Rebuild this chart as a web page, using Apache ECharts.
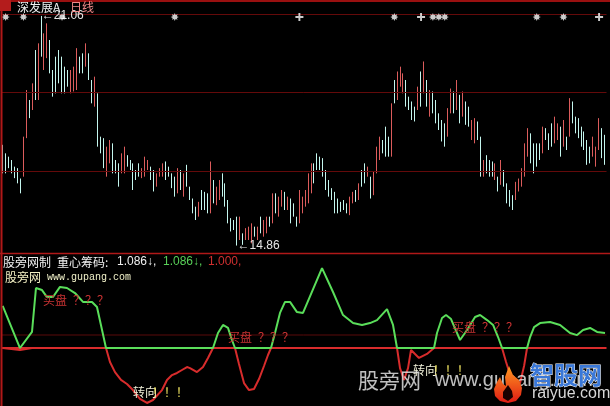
<!DOCTYPE html>
<html><head><meta charset="utf-8">
<script src="https://cdn.jsdelivr.net/npm/echarts@6/dist/echarts.min.js"></script>
<style>html,body{margin:0;padding:0;background:#000;}#c{width:610px;height:406px;}</style>
</head><body><div id="c"></div>
<script>
// [open, close, low, high]
const ohlc = [
[17.45,16.95,16.81,17.58],[17.25,16.95,16.81,17.35],[17.2,17.0,16.95,17.26],[17.1,16.9,16.81,17.17],[16.95,16.75,16.68,16.99],
[16.9,16.6,16.54,16.95],[16.6,16.35,16.27,16.67],[16.8,17.7,16.72,17.8],[17.9,18.95,17.76,19.06],[18.7,18.4,18.3,18.79],
[18.6,19.1,18.52,19.24],[20.0,18.9,18.79,20.14],[18.9,20.2,18.79,20.32],[20.9,20.1,19.96,21.06],[19.7,20.5,19.6,20.59],
[20.0,20.75,19.92,20.86],[20.3,19.6,19.51,20.41],[19.5,19.0,18.88,19.6],[19.9,19.05,18.97,19.96],[20.05,19.3,19.24,20.14],
[19.9,19.05,18.97,19.96],[19.6,19.05,18.97,19.69],[19.55,19.2,19.15,19.6],[19.05,19.5,18.97,19.6],[19.1,19.6,19.02,19.69],
[19.15,20.1,19.06,20.19],[19.9,19.55,19.51,19.96],[20.0,19.55,19.51,20.05],[19.75,20.25,19.69,20.32],[20.0,19.4,19.33,20.05],
[19.25,18.75,18.7,19.33],[18.7,19.35,18.61,19.42],[18.9,17.6,17.53,18.97],[17.75,17.4,17.35,17.8],[17.7,17.0,16.95,17.76],
[16.8,17.45,16.72,17.53],[17.15,17.65,17.08,17.71],[17.55,16.9,16.81,17.62],[17.1,16.85,16.81,17.17],[17.0,16.5,16.45,17.08],
[16.85,17.3,16.81,17.35],[16.9,17.45,16.81,17.53],[17.25,17.05,16.99,17.3],[17.1,16.95,16.9,17.17],[17.0,16.45,16.36,17.08],
[16.85,16.7,16.63,16.9],[17.0,16.75,16.72,17.08],[16.72,16.9,16.68,16.95],[16.8,17.2,16.72,17.26],[16.95,17.1,16.9,17.17],
[16.95,16.7,16.63,16.99],[16.85,16.4,16.32,16.9],[16.5,16.75,16.45,16.81],[16.75,16.9,16.72,16.95],[16.78,17.0,16.72,17.08],
[17.05,16.7,16.63,17.13],[16.95,16.75,16.72,16.99],[16.75,16.45,16.41,16.81],[16.65,16.25,16.18,16.72],[16.35,16.9,16.27,16.95],
[16.85,16.4,16.36,16.9],[16.25,16.75,16.18,16.81],[16.95,16.5,16.45,17.04],[16.4,16.15,16.09,16.45],[16.1,15.8,15.73,16.13],
[15.85,15.6,15.55,15.91],[15.7,16.0,15.64,16.04],[16.3,15.9,15.82,16.36],[16.25,15.9,15.82,16.31],[16.2,15.8,15.73,16.27],
[15.8,17.0,15.73,17.13],[16.55,16.1,16.0,16.63],[16.0,16.4,15.95,16.45],[16.15,16.55,16.09,16.63],[16.75,16.25,16.18,16.81],
[16.5,15.95,15.91,16.54],[16.05,15.5,15.46,16.09],[15.55,15.3,15.24,15.6],[15.5,15.32,15.28,15.55],[15.6,14.95,14.86,15.64],
[15.05,15.6,15.01,15.64],[15.15,14.95,14.88,15.19],[15.05,15.28,15.01,15.33],[15.05,15.3,15.01,15.37],[15.0,15.4,14.92,15.46],
[15.33,15.15,15.1,15.37],[15.05,15.3,15.01,15.37],[15.55,15.25,15.19,15.64],[15.15,15.5,15.1,15.55],[15.25,15.6,15.19,15.64],
[15.6,15.4,15.37,15.64],[15.5,16.2,15.46,16.27],[16.2,15.8,15.73,16.27],[15.7,16.1,15.64,16.18],[15.95,16.3,15.91,16.36],
[16.25,15.9,15.82,16.31],[15.86,16.1,15.82,16.18],[16.05,15.5,15.46,16.13],[15.95,15.7,15.64,16.0],[15.6,15.42,15.37,15.64],
[15.5,16.3,15.46,16.36],[15.78,16.1,15.73,16.18],[15.95,16.3,15.91,16.36],[16.05,16.75,16.0,16.81],[16.3,17.0,16.27,17.08],
[17.0,16.6,16.54,17.08],[17.3,16.95,16.9,17.35],[17.2,16.95,16.9,17.26],[17.15,16.8,16.72,17.22],[16.85,16.4,16.36,16.9],
[16.55,16.25,16.18,16.63],[16.35,16.15,16.09,16.41],[16.25,15.8,15.73,16.31],[16.1,15.78,15.73,16.13],[16.0,15.82,15.77,16.04],
[16.05,15.87,15.82,16.09],[15.95,15.78,15.73,16.0],[15.72,16.1,15.68,16.18],[16.05,16.25,16.0,16.31],[16.3,16.1,16.04,16.36],
[16.12,16.5,16.09,16.54],[16.85,16.5,16.45,16.9],[17.0,16.6,16.54,17.08],[16.75,16.95,16.72,16.99],[16.65,16.2,16.13,16.72],
[16.25,16.8,16.22,16.86],[16.85,17.45,16.81,17.53],[17.2,17.75,17.17,17.8],[17.65,17.4,17.35,17.71],[18.0,17.3,17.26,18.07],
[17.75,17.3,17.26,17.8],[17.3,18.6,17.26,18.7],[19.25,18.75,18.7,19.33],[18.85,19.5,18.79,19.56],[19.2,19.6,19.15,19.69],
[19.0,19.45,18.97,19.51],[19.25,18.65,18.61,19.33],[18.85,18.55,18.52,18.88],[18.7,18.3,18.25,18.75],[18.55,18.25,18.21,18.61],
[18.55,19.1,18.52,19.15],[19.5,18.65,18.61,19.56],[19.0,19.75,18.97,19.83],[19.25,18.65,18.61,19.33],[18.4,19.0,18.34,19.06],
[18.95,18.5,18.43,19.02],[18.7,18.2,18.16,18.79],[18.4,18.02,17.98,18.43],[18.2,17.7,17.67,18.25],[18.1,17.6,17.53,18.16],
[17.85,18.5,17.8,18.57],[18.5,19.05,18.43,19.1],[18.95,18.5,18.43,19.02],[18.55,19.25,18.52,19.33],[18.85,18.2,18.16,18.93],
[18.4,18.95,18.34,19.02],[18.7,18.15,18.12,18.75],[18.55,18.1,18.07,18.61],[17.75,18.2,17.71,18.25],[17.65,18.25,17.62,18.3],
[18.15,17.75,17.71,18.21],[17.75,16.8,16.72,17.8],[16.75,17.1,16.72,17.17],[17.25,16.85,16.81,17.3],[17.1,16.75,16.72,17.17],
[17.05,16.75,16.72,17.13],[16.65,17.0,16.63,17.08],[16.65,16.35,16.32,16.72],[16.55,17.1,16.5,17.17],[16.85,16.5,16.45,16.9],
[16.5,16.05,16.0,16.54],[16.3,15.95,15.91,16.36],[16.15,15.85,15.82,16.22],[16.12,16.5,16.09,16.58],[16.35,16.6,16.32,16.67],
[16.5,16.9,16.45,16.95],[16.75,17.55,16.72,17.62],[17.3,17.95,17.26,18.03],[17.8,17.15,17.08,17.89],[17.55,16.85,16.81,17.62],
[17.55,17.05,16.99,17.62],[17.55,17.2,17.17,17.62],[17.4,18.0,17.35,18.07],[17.98,17.75,17.71,18.03],[17.85,17.5,17.44,17.89],
[18.1,17.6,17.53,18.16],[17.65,18.3,17.62,18.34],[17.75,18.1,17.71,18.16],[18.0,17.3,17.26,18.07],[17.56,18.2,17.53,18.25],
[17.75,17.5,17.44,17.8],[17.85,18.8,17.8,18.84],[18.7,18.2,18.16,18.75],[18.3,17.92,17.89,18.34],[18.25,17.8,17.76,18.3],
[18.0,17.58,17.53,18.07],[17.9,17.5,17.44,17.94],[17.65,17.1,17.04,17.71],[17.5,17.12,17.08,17.53],[17.3,17.75,17.26,17.8],
[17.05,17.5,16.99,17.53],[17.5,18.25,17.44,18.3],[17.95,17.3,17.22,18.03],[17.8,17.1,17.04,17.85]
];
const starBars = [1, 7, 20, 58, 132, 145, 147, 149, 180, 189];
const plusBars = [100, 141, 201];
const priceLevels = [21.112, 19.006, 16.873];
// indicator polyline: [bar position, value]
const indicator = [[0,1.241],[5.83,0.989],[9.88,1.092],[11.22,1.344],[13.25,1.332],[14.93,1.292],[16.95,1.292],[19.31,1.350],[21.67,1.344],[24.37,1.315],[27.06,1.264],[30.10,1.264],[31.78,1.235],[34.82,1.0],[36.16,0.920],[37.85,0.862],[39.87,0.817],[41.89,0.794],[43.91,0.759],[46.27,0.708],[48.63,0.685],[50.66,0.702],[53.69,0.759],[55.38,0.817],[57.06,0.845],[58.75,0.857],[60.43,0.874],[62.12,0.891],[63.13,0.885],[65.49,0.862],[67.51,0.891],[69.19,0.943],[70.88,1.0],[72.56,1.086],[74.25,1.132],[75.93,1.115],[77.28,1.046],[78.29,1.0],[79.64,0.908],[81.33,0.799],[83.01,0.759],[84.70,0.765],[86.38,0.822],[88.07,0.897],[89.42,0.960],[90.43,1.0],[91.78,1.086],[93.46,1.201],[95.15,1.264],[96.83,1.264],[99.19,1.206],[101.21,1.201],[107.62,1.458],[111.33,1.321],[114.70,1.189],[118.07,1.143],[121.10,1.132],[123.80,1.143],[126.16,1.160],[129.53,1.223],[131.55,1.132],[132.90,1.0],[133.91,0.885],[135.26,0.817],[136.61,0.885],[137.62,0.989],[140.31,0.943],[143.0,0.966],[145.37,1.0],[146.38,1.086],[148.07,1.172],[149.42,1.189],[151.1,1.166],[154.14,1.046],[156.5,1.103],[159.2,1.178],[160.89,1.189],[163.25,1.160],[165.27,1.132],[166.95,1.063],[168.30,1.0],[169.65,0.920],[171.34,0.828],[172.69,0.777],[174.37,0.799],[175.72,0.897],[176.73,1.0],[177.75,1.063],[179.09,1.120],[181.11,1.143],[184.48,1.149],[187.85,1.132],[191.22,1.086],[193.58,1.074],[195.60,1.103],[197.96,1.115],[200.32,1.092],[203,1.086]];
const baseLevel = 1.0;
const refLevel = 1.0745;
const titleValues = ['1.086', '1.086', '1.000'];

const N = ohlc.length;
const categories = ohlc.map((_, i) => i);
const MARK_Y = 21.03;
const CJK = '"Noto Sans CJK SC", sans-serif';
const UP = '#dc5c5c', DOWN = '#c4f6ee', GREEN = '#5ade5a', RED = '#d82c2c';

const starPath = 'path://M10,5 L7.59,6.07 L8.54,8.54 L6.07,7.59 L5,10 L3.93,7.59 L1.46,8.54 L2.41,6.07 L0,5 L2.41,3.93 L1.46,1.46 L3.93,2.41 L5,0 L6.07,2.41 L8.54,1.46 L7.59,3.93 Z';
const plusPath = 'path://M3.8,0 L6.2,0 L6.2,3.8 L10,3.8 L10,6.2 L6.2,6.2 L6.2,10 L3.8,10 L3.8,6.2 L0,6.2 L0,3.8 L3.8,3.8 Z';

function txt(x, y, s, color, font, extra) {
  const st = {text:s, fill:color, font:font, verticalAlign:'middle', align:'left'};
  if (extra) Object.assign(st, extra);
  return {type:'text', x:x, y:y, silent:true, z:50, style:st};
}

const chart = echarts.init(document.getElementById('c'), null, {renderer:'canvas'});
const GL = 1.2, GW = 605.3;
chart.setOption({
  backgroundColor:'#000',
  animation:false,
  grid:[{left:GL, top:0, width:GW, height:253}, {left:GL, top:253, width:GW, height:153}],
  xAxis:[
    {type:'category', data:categories, gridIndex:0, boundaryGap:true, show:false},
    {type:'value', gridIndex:1, min:-0.5, max:N-0.5, show:false}
  ],
  yAxis:[
    {type:'value', gridIndex:0, min:14.659, max:21.49, show:false},
    {type:'value', gridIndex:1, min:0.6677, max:1.5444, show:false}
  ],
  series:[
    {type:'candlestick', xAxisIndex:0, yAxisIndex:0, data:ohlc, barWidth:0.5,
      itemStyle:{color:UP, color0:DOWN, borderColor:UP, borderColor0:DOWN, borderWidth:1},
      markLine:{silent:true, symbol:['none','none'], label:{show:false},
        lineStyle:{color:'#640a0a', type:'solid', width:1},
        data:priceLevels.map(v => ({yAxis:v}))},
      markPoint:{symbol:'rect', symbolSize:1, itemStyle:{color:'rgba(0,0,0,0)'},
        label:{show:true, position:'right', distance:0, color:'#e6e6e6',
          fontFamily:'Liberation Sans', fontSize:12,
          formatter:p => '←' + Number(p.value).toFixed(2)},
        data:[{type:'max', valueDim:'highest'}, {type:'min', valueDim:'lowest'}]}
    },
    {type:'scatter', xAxisIndex:0, yAxisIndex:0, symbol:starPath, symbolSize:8,
      itemStyle:{color:'#ffffff'}, data:starBars.map(i => [i, MARK_Y]), z:5},
    {type:'scatter', xAxisIndex:0, yAxisIndex:0, symbol:plusPath, symbolSize:8,
      itemStyle:{color:'#ffffff'}, data:plusBars.map(i => [i, MARK_Y]), z:5},
    {type:'line', xAxisIndex:1, yAxisIndex:1, showSymbol:false, symbol:'none', z:1,
      lineStyle:{color:'#5a0a0a', width:1}, data:[[-0.5, refLevel], [N - 0.5, refLevel]]},
    {type:'line', xAxisIndex:1, yAxisIndex:1, showSymbol:false, symbol:'none', z:1,
      lineStyle:{color:RED, width:2}, data:[[-0.5, baseLevel], [N - 0.5, baseLevel]]},
    {type:'line', xAxisIndex:1, yAxisIndex:1, showSymbol:false, symbol:'none', z:2,
      lineStyle:{color:RED, width:2},
      data:indicator.map(([i, v]) => [i, Math.min(v, baseLevel)])},
    {type:'line', xAxisIndex:1, yAxisIndex:1, showSymbol:false, symbol:'none', z:3,
      lineStyle:{color:GREEN, width:2},
      data:indicator.map(([i, v]) => [i, Math.max(v, baseLevel)])}
  ],
  graphic:[
    {type:'line', silent:true, z:40, shape:{x1:0, y1:1, x2:610, y2:1}, style:{stroke:'#9a1010', lineWidth:2}},
    {type:'line', silent:true, z:40, shape:{x1:0, y1:253.5, x2:610, y2:253.5}, style:{stroke:'#b01818', lineWidth:1.5}},
    {type:'line', silent:true, z:40, shape:{x1:1.5, y1:0, x2:1.5, y2:406}, style:{stroke:'#b01818', lineWidth:2}},
    {type:'rect', silent:true, z:41, shape:{x:0, y:0, width:11, height:11}, style:{fill:'#b41c1c'}},
    txt(17, 7, '深发展A', '#f0f0f0', '12px ' + CJK),
    txt(70, 7, '日线', '#f08a8a', '12px ' + CJK),
    txt(3, 262, '股旁网制', '#f0f0f0', '12px ' + CJK),
    txt(57, 262, '重心筹码:', '#f0f0f0', '12px ' + CJK),
    txt(117, 262, titleValues[0] + '↓,', '#f0f0f0', '12px "Liberation Sans"'),
    txt(163, 262, titleValues[1] + '↓,', '#58d058', '12px "Liberation Sans"'),
    txt(208, 262, titleValues[2] + ',', '#d03030', '12px "Liberation Sans"'),
    txt(5, 277, '股旁网', '#f4f0c4', '12px ' + CJK),
    txt(47, 277, 'www.gupang.com', '#f0f0c8', '10px "Liberation Mono"'),
    txt(43, 300, '买盘', '#c83232', '12px ' + CJK),
    txt(73, 300, '？？？', '#c83232', '12px ' + CJK),
    txt(228, 337, '买盘', '#c83232', '12px ' + CJK),
    txt(258, 337, '？？？', '#c83232', '12px ' + CJK),
    txt(452, 327, '买盘', '#c83232', '12px ' + CJK),
    txt(482, 327, '？？？', '#c83232', '12px ' + CJK),
    txt(133, 392, '转向', '#f0f0d8', '12px ' + CJK),
    txt(152, 392, '！！！', '#f0e460', '12px ' + CJK),
    txt(413, 370, '转向', '#f0f0d8', '12px ' + CJK),
    txt(433, 370, '！！！', '#f0e460', '12px ' + CJK),
    txt(358, 380, '股旁网', 'rgba(225,225,225,0.85)', '21px ' + CJK),
    txt(435, 380, 'www.gupang.com', 'rgba(225,225,225,0.85)', '20px "Liberation Sans"'),
    {type:'polygon', silent:true, z:60,
      shape:{points:[[509,366],[513,375],[519,380],[522,388],[521,395],[516,401],[508,403],[500,401],[495,396],[494,389],[497,382],[500,377],[503,384],[506,386],[505,377]]},
      style:{fill:{type:'linear', x:0, y:0, x2:0, y2:1, colorStops:[{offset:0, color:'#ff9a20'}, {offset:1, color:'#e01a14'}]}}},
    {type:'polygon', silent:true, z:61,
      shape:{points:[[508,385],[512,391],[513,397],[508,401],[503,398],[503,392]]},
      style:{fill:'#1a0000'}},
    txt(530, 375, '智股网', '#3a78d8', 'bold 24px ' + CJK, {stroke:'#ffffff', lineWidth:1}),
    txt(532, 394, 'raiyue.com', '#d8d8d8', '16px "Liberation Sans"')
  ]
});
</script></body></html>
